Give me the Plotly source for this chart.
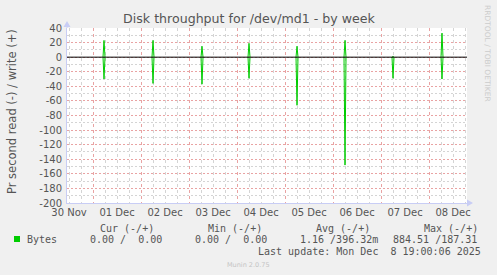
import plotly.graph_objects as go

# ---------------- data ----------------
# 30-minute samples around each daily burst (None = gap between bursts)
sample_times = [
    "2025-12-01 05:00", "2025-12-01 05:30", "2025-12-01 06:00", None,
    "2025-12-02 05:30", "2025-12-02 06:00", "2025-12-02 06:30", None,
    "2025-12-03 06:00", "2025-12-03 06:30", "2025-12-03 07:00", None,
    "2025-12-04 05:30", "2025-12-04 06:00", "2025-12-04 06:30", None,
    "2025-12-05 05:30", "2025-12-05 06:00", "2025-12-05 06:30", None,
    "2025-12-06 05:30", "2025-12-06 06:00", "2025-12-06 06:30", None,
    "2025-12-07 05:30", "2025-12-07 06:00", "2025-12-07 06:30", None,
    "2025-12-08 06:00", "2025-12-08 06:30", "2025-12-08 07:00",
]
write_values = [
    0, 23, 0, None,
    0, 23, 0, None,
    0, 15, 0, None,
    0, 19, 0, None,
    0, 15, 0, None,
    0, 23, 0, None,
    0, 1, 0, None,
    0, 33, 0,
]
read_values = [
    0, -30, 0, None,
    0, -36, 0, None,
    0, -37, 0, None,
    0, -29, 0, None,
    0, -66, 0, None,
    0, -148, 0, None,
    0, -29, 0, None,
    0, -30, 0,
]

y_tickvals = [40, 20, 0, -20, -40, -60, -80, -100, -120, -140, -160, -180, -200]
y_ticktext = ["40", "20", "0", "-20", "-40", "-60", "-80", "-100", "-120",
              "-140", "-160", "-180", "-200"]
y_minor_vals = [30, 10, -10, -30, -50, -70, -90, -110, -130, -150, -170, -190]
x_label_vals = ["2025-11-30 12:00", "2025-12-01 12:00", "2025-12-02 12:00",
                "2025-12-03 12:00", "2025-12-04 12:00", "2025-12-05 12:00",
                "2025-12-06 12:00", "2025-12-07 12:00", "2025-12-08 12:00"]
x_label_text = ["30 Nov", "01 Dec", "02 Dec", "03 Dec", "04 Dec", "05 Dec",
                "06 Dec", "07 Dec", "08 Dec"]
day_lines = ["2025-12-01", "2025-12-02", "2025-12-03", "2025-12-04",
             "2025-12-05", "2025-12-06", "2025-12-07", "2025-12-08"]
x_range = ["2025-11-30 11:00:06", "2025-12-08 19:00:06"]

series_name = "Bytes"
legend_headers = ["Cur (-/+)", "Min (-/+)", "Avg (-/+)", "Max (-/+)"]
legend_values = ["0.00 /  0.00", "0.00 /  0.00", "1.16 /396.32m", "884.51 /187.31"]
last_update = "Last update: Mon Dec  8 19:00:06 2025"
title_text = "Disk throughput for /dev/md1 - by week"
ytitle_text = "Pr second read (-) / write (+)"

# ---------------- styling ----------------
W, H = 497, 275
L, R, T, B = 67, 30, 28, 72
PW, PH = W - L - R, H - T - B

GREEN = "#00CC00"
MGRID = "#e9a3a3"
GRID = "#d4d4d4"
AXIS = "#c8cdf5"
TXT = "#555555"
XDOT = "dot"
YDOT = "2px,2px"
SANS = "DejaVu Sans"
MONO = "DejaVu Sans Mono"


def px(x):
    return (x - L) / PW


def py(y):
    return (H - B - y) / PH


def nb(s):
    return s.replace(" ", "\u00a0")


fig = go.Figure()
fig.add_trace(go.Scatter(x=sample_times, y=read_values, mode="lines",
                         line=dict(color=GREEN, width=1), hoverinfo="skip"))
fig.add_trace(go.Scatter(x=sample_times, y=write_values, mode="lines",
                         line=dict(color=GREEN, width=1), hoverinfo="skip"))
fig.add_trace(go.Scatter(x=[x_range[0]], y=[0], xaxis="x2", yaxis="y2",
                         mode="markers", marker=dict(opacity=0), hoverinfo="skip"))

annotations = []
annotations.append(dict(text=ytitle_text, xref="paper", yref="paper",
                        x=px(12), y=py(112), xanchor="center", yanchor="middle",
                        textangle=-90, showarrow=False,
                        font=dict(family=SANS, size=11.5, color=TXT)))
annotations.append(dict(text="RRDTOOL / TOBI OETIKER", xref="paper", yref="paper",
                        x=px(488), y=py(53), xanchor="center", yanchor="middle",
                        textangle=90, showarrow=False,
                        font=dict(family=SANS, size=7.5, color="#cccccc")))
for xl, h in zip([99, 207, 315, 423], legend_headers):
    annotations.append(dict(text=nb(h), xref="paper", yref="paper",
                            x=px(xl - 1), y=py(228), xanchor="left", yanchor="middle",
                            showarrow=False, font=dict(family=MONO, size=10, color=TXT)))
annotations.append(dict(text=series_name, xref="paper", yref="paper",
                        x=px(25), y=py(239.5), xanchor="left", yanchor="middle",
                        showarrow=False, font=dict(family=MONO, size=10, color=TXT)))
for xl, v in zip([89, 194, 299, 392], legend_values):
    annotations.append(dict(text=nb(v), xref="paper", yref="paper",
                            x=px(xl - 1), y=py(239.5), xanchor="left", yanchor="middle",
                            showarrow=False, font=dict(family=MONO, size=10, color=TXT)))
annotations.append(dict(text=nb(last_update), xref="paper", yref="paper",
                        x=px(483), y=py(251.5), xanchor="right", yanchor="middle",
                        showarrow=False, font=dict(family=MONO, size=10, color=TXT)))
annotations.append(dict(text="Munin 2.0.75", xref="paper", yref="paper",
                        x=px(248), y=py(264.5), xanchor="center", yanchor="middle",
                        showarrow=False, font=dict(family=SANS, size=6.5, color="#c4c4c4")))

shapes = [
    dict(type="rect", xref="paper", yref="paper", x0=px(14), x1=px(20),
         y0=py(242), y1=py(236), fillcolor=GREEN, line=dict(width=0)),
    dict(type="path", xref="paper", yref="paper", xsizemode="pixel", ysizemode="pixel",
         xanchor=0, yanchor=1, path="M -3.5 1 L 3.5 1 L 0 7 Z",
         fillcolor=AXIS, line=dict(width=0)),
    dict(type="line", xref="paper", yref="paper", x0=0, x1=0, y0=1, y1=py(24),
         line=dict(color=AXIS, width=1)),
    dict(type="path", xref="paper", yref="paper", xsizemode="pixel", ysizemode="pixel",
         xanchor=1, yanchor=0, path="M 0 3.5 L 0 -3.5 L 6 0 Z",
         fillcolor=AXIS, line=dict(width=0)),
    dict(type="line", xref="paper", yref="y", x0=0, x1=1, y0=0, y1=0,
         layer="above", line=dict(color="#000000", width=1)),
]

fig.update_layout(
    width=W, height=H,
    margin=dict(l=L, r=R, t=T, b=B, pad=0),
    paper_bgcolor="#F0F0F0", plot_bgcolor="#FFFFFF",
    showlegend=False,
    title=dict(text=title_text, xref="container", yref="container",
               x=249 / W, y=1 - 18.5 / H, xanchor="center", yanchor="middle",
               font=dict(family=SANS, size=12.6, color=TXT)),
    xaxis=dict(type="date", range=x_range, tickmode="array",
               tickvals=x_label_vals, ticktext=x_label_text,
               showgrid=True, gridcolor=GRID, gridwidth=1, griddash=XDOT,
               zeroline=False, ticks="",
               minor=dict(dtick=6 * 3600 * 1000, tick0="2025-11-30", showgrid=True,
                          gridcolor=GRID, gridwidth=1, griddash=XDOT),
               showline=True, linecolor=AXIS, linewidth=1,
               tickfont=dict(family=SANS, size=10, color=TXT)),
    yaxis=dict(range=[-200, 40], tickmode="array", tickvals=y_tickvals,
               ticktext=y_ticktext, showgrid=True, gridcolor=MGRID, gridwidth=1,
               griddash=YDOT,
               minor=dict(tickmode="array", tickvals=y_minor_vals, showgrid=True,
                          gridcolor=GRID, gridwidth=1, griddash=YDOT),
               zeroline=False,
               showline=True, linecolor=AXIS, linewidth=1, ticks="",
               ticklabelstandoff=2,
               tickfont=dict(family=SANS, size=10, color=TXT)),
    xaxis2=dict(type="date", overlaying="x", anchor="y2", side="bottom",
                range=x_range, tickmode="array", tickvals=day_lines,
                showticklabels=False, ticks="",
                showgrid=True, gridcolor=MGRID, gridwidth=1, griddash=XDOT,
                zeroline=False, showline=False),
    yaxis2=dict(overlaying="y", anchor="x2", range=[-200, 40], showgrid=False,
                showticklabels=False, ticks="", zeroline=False, showline=False),
    annotations=annotations,
    shapes=shapes,
)

fig.write_html("out.html")
